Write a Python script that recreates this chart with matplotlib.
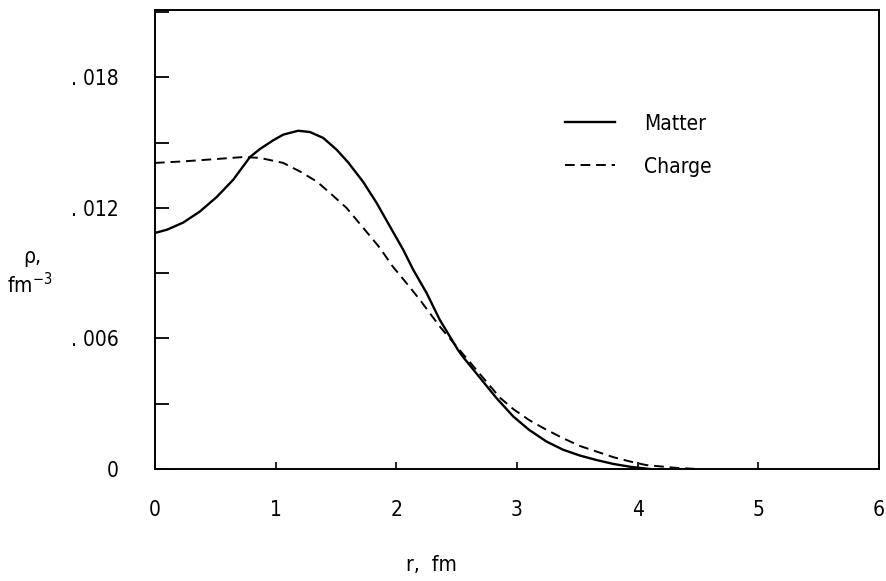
import matplotlib
matplotlib.use('Agg')
import matplotlib.pyplot as plt
from matplotlib.ticker import MultipleLocator

# data (r in fm, rho in fm^-3)
r_matter = [0.0, 0.10, 0.235, 0.373, 0.511, 0.649, 0.787, 0.87, 0.98, 1.063, 1.187,
            1.284, 1.394, 1.505, 1.60, 1.725, 1.837, 1.947, 2.057, 2.14, 2.251,
            2.36, 2.51, 2.55, 2.83, 2.97, 3.10, 3.245, 3.38, 3.52, 3.66, 3.80,
            3.94, 4.10]
rho_matter = [0.01085, 0.0110, 0.01133, 0.01184, 0.0125, 0.0133, 0.01434, 0.01471,
              0.01511, 0.01537, 0.01555, 0.01549, 0.01522, 0.01468, 0.01410, 0.01320,
              0.01223, 0.01115, 0.01008, 0.00916, 0.00809, 0.00686, 0.00548, 0.00517,
              0.00326, 0.00241, 0.00180, 0.00126, 0.00089, 0.00062, 0.00041, 0.00023,
              0.00010, 0.0]

r_charge = [0.0, 0.235, 0.511, 0.73, 0.87, 1.063, 1.20, 1.34, 1.45, 1.588, 1.725,
            1.864, 1.97, 2.085, 2.195, 2.36, 2.55, 2.86, 2.97, 3.10, 3.245, 3.38,
            3.52, 3.66, 3.80, 3.94, 4.07, 4.30, 4.49]
rho_charge = [0.01407, 0.01414, 0.01425, 0.01434, 0.0143, 0.01407, 0.01368, 0.01322,
              0.01269, 0.0120, 0.01109, 0.01016, 0.00931, 0.00854, 0.00778, 0.00655,
              0.0053, 0.00327, 0.00275, 0.00225, 0.0018, 0.00142, 0.00106, 0.0008,
              0.00054, 0.00034, 0.00018, 0.00006, 0.0]

x_ticks = [0, 1, 2, 3, 4, 5, 6]
y_ticks = [0, 0.006, 0.012, 0.018]
y_ticklabels = ['0', '. 006', '. 012', '. 018']

plt.rcParams['font.family'] = ['DejaVu Sans']
plt.rcParams['font.stretch'] = 'condensed'

fig = plt.figure(figsize=(8.87, 5.81), dpi=100)
ax = fig.add_axes([0.1747, 0.1928, 0.991 - 0.1747, 0.9828 - 0.1928])

ax.plot(r_matter, rho_matter, color='black', lw=1.7, label='Matter',
        solid_joinstyle='round')
ax.plot(r_charge, rho_charge, color='black', lw=1.4, dashes=(5, 3), label='Charge')

ax.set_xlim(0, 6)
ax.set_ylim(0, 0.0211)

ax.set_xticks(x_ticks)
ax.set_xticklabels([str(t) for t in x_ticks])
ax.set_yticks(y_ticks)
ax.set_yticklabels(y_ticklabels)
ax.yaxis.set_minor_locator(MultipleLocator(0.003))

ax.tick_params(axis='y', which='both', direction='in', length=10, width=1.3,
               labelsize=15, pad=26)
ax.tick_params(axis='x', which='major', direction='in', length=5, width=1.2,
               labelsize=15, pad=22)
ax.tick_params(axis='x', which='minor', length=0)

for s in ax.spines.values():
    s.set_linewidth(1.4)

leg = ax.legend(loc='upper left', bbox_to_anchor=(0.54, 0.815), frameon=False,
                fontsize=15, handlelength=2.4, handletextpad=1.4,
                labelspacing=1.1)

fig.text(0.486, 0.027, 'r,  fm', fontsize=15, ha='center', va='center')
fig.text(0.036, 0.558, 'ρ,', fontsize=15, ha='center', va='center')
fig.text(0.034, 0.510, 'fm$^{-3}$', fontsize=15, ha='center', va='center')

fig.savefig('out.png', dpi=100)
